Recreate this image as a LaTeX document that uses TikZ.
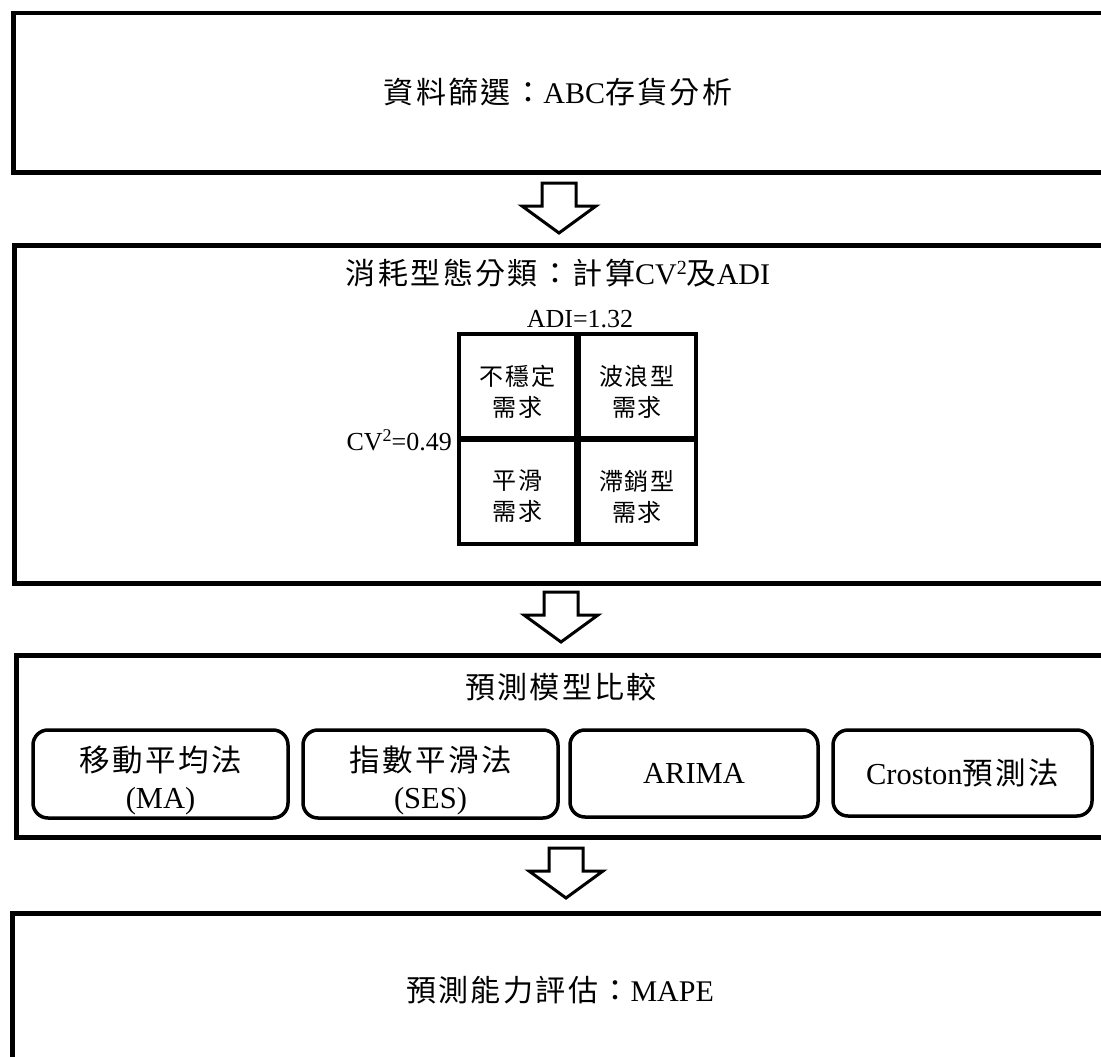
\documentclass[tikz,border=0pt]{standalone}
\usepackage{fontspec}
\setmainfont{Liberation Serif}
\newfontfamily\cjk[LetterSpace=8]{Noto Sans CJK TC}
\usetikzlibrary{calc}
\newcommand\supertwo[1]{\raisebox{0.33em}{\fontsize{#1}{#1}\selectfont 2}}
\begin{document}
\begin{tikzpicture}[x=1pt,y=-1pt,
  panel/.style={draw, line width=4.5pt, rectangle, anchor=north west, inner sep=0pt},
  title/.style={font=\fontsize{30}{36}\selectfont, inner sep=0pt},
  axislabel/.style={font=\fontsize{26}{30}\selectfont, inner sep=0pt},
  cell/.style={draw, line width=4pt, minimum width=117pt, minimum height=104pt, inner sep=0pt},
  celltext/.style={align=center, font=\fontsize{24}{31}\selectfont, inner sep=0pt},
  method/.style={draw, line width=3.5pt, rounded corners=15pt, inner sep=0pt},
  methodtext/.style={align=center, font=\fontsize{30.5}{37}\selectfont, inner sep=0pt},
  downarrow/.pic={\draw[line width=3pt, line join=miter, fill=white]
    (-17,0) -- (17,0) -- (17,23) -- (37,23) -- (0,50) -- (-37,23) -- (-17,23) -- cycle;}]
\useasboundingbox (0,0) rectangle (1101,1057);
\clip (0,0) rectangle (1101,1057);
\fill[white] (0,0) rectangle (1101,1057);

% panels
\node[panel, minimum width=1110pt, minimum height=159pt] (b1) at (11,11) {};
\node[panel, minimum width=1110pt, minimum height=338pt] (b2) at (12,243) {};
\node[panel, minimum width=1110pt, minimum height=182pt] (b3) at (14,653) {};
\node[panel, minimum width=1110pt, minimum height=200pt] (b4) at (10,911) {};

% titles
\node[title] (t1) at (558,92) {{\cjk 資料篩選：}ABC{\cjk 存貨分析}};
\node[title] (t2) at (558,273) {{\cjk 消耗型態分類：計算}CV\supertwo{20}{\cjk 及}ADI};
\node[title] (t3) at (561,687) {\cjk 預測模型比較};
\node[title] (t4) at (560,990) {{\cjk 預測能力評估：}MAPE};

% block arrows
\pic (a1) at (559,183) {downarrow};
\pic (a2) at (561,592) {downarrow};
\pic (a3) at (566,848) {downarrow};

% matrix
\node[cell] (c11) at (517.5,386) {};
\node[cell] (c12) at (637,386) {};
\node[cell] (c21) at (517.5,491.5) {};
\node[cell] (c22) at (637,491.5) {};
\node[celltext] (c11t) at ($(c11)+(0,6)$) {\cjk 不穩定\\\cjk 需求};
\node[celltext] (c12t) at ($(c12)+(0,6)$) {\cjk 波浪型\\\cjk 需求};
\node[celltext] (c21t) at ($(c21)+(0,5)$) {\cjk 平滑\\\cjk 需求};
\node[celltext] (c22t) at ($(c22)+(0,5)$) {\cjk 滯銷型\\\cjk 需求};
\node[axislabel] (adi) at (580,319) {ADI=1.32};
\node[axislabel, anchor=east] (cv) at (452,440) {CV\supertwo{18}=0.49};

% methods
\node[method, minimum width=255pt, minimum height=88pt] (m1) at (160.5,774) {};
\node[method, minimum width=255pt, minimum height=88pt] (m2) at (430.5,774) {};
\node[method, minimum width=248pt, minimum height=87pt] (m3) at (694,773.5) {};
\node[method, minimum width=259pt, minimum height=86pt] (m4) at (962.5,773) {};
\node[methodtext] (m1t) at ($(m1)+(0,6)$) {\cjk 移動平均法\\(MA)};
\node[methodtext] (m2t) at ($(m2)+(0,6)$) {\cjk 指數平滑法\\(SES)};
\node[methodtext] (m3t) at (m3) {ARIMA};
\node[methodtext] (m4t) at (m4) {Croston{\cjk 預測法}};
\end{tikzpicture}
\end{document}
